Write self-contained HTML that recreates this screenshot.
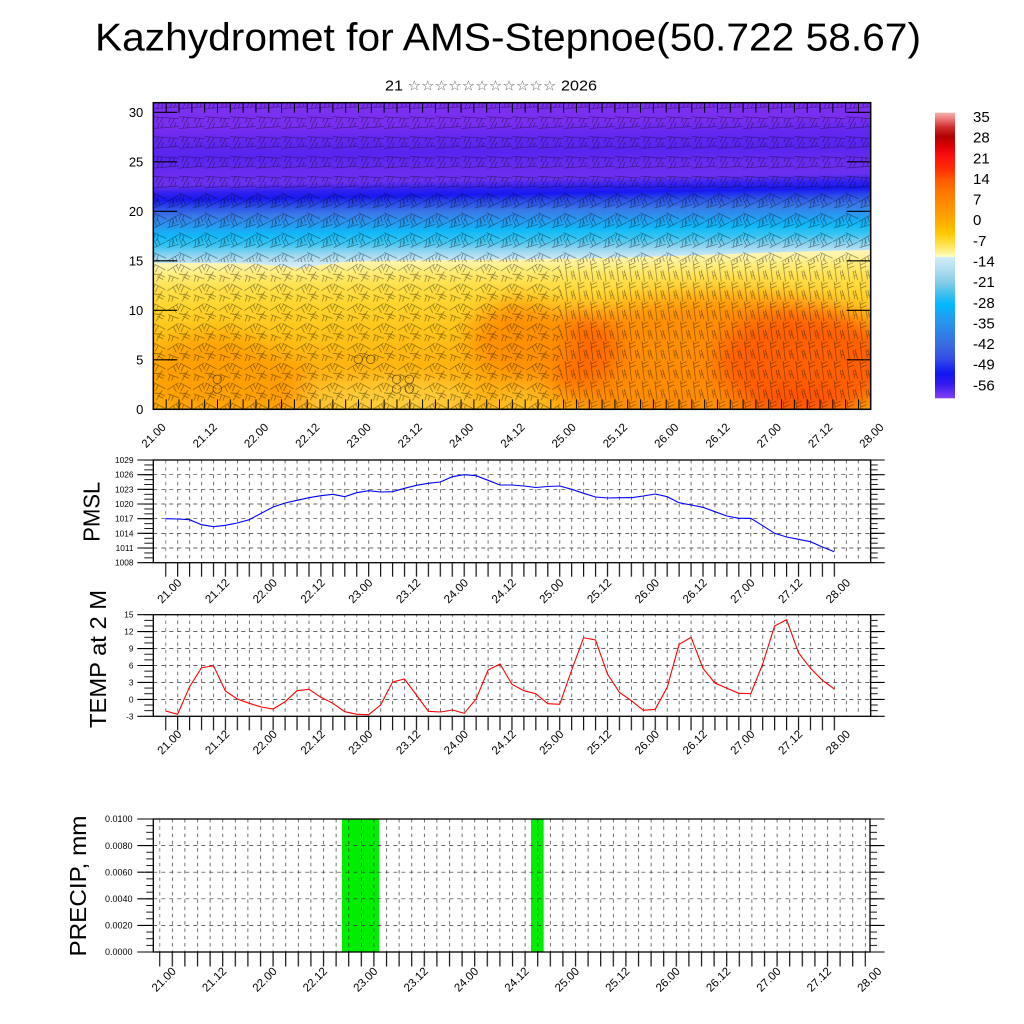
<!DOCTYPE html>
<html><head><meta charset="utf-8">
<style>
html,body{margin:0;padding:0;background:#fff;}
svg{display:block;}
text{font-family:"Liberation Sans","DejaVu Sans",sans-serif;fill:#000;}
</style></head>
<body>
<svg width="1024" height="1024" viewBox="0 0 1024 1024" xmlns="http://www.w3.org/2000/svg">
<defs>
 <linearGradient id="warm" gradientUnits="userSpaceOnUse" x1="0" y1="102.7" x2="0" y2="409.3" gradientTransform="rotate(-1 512 256)">
  <stop offset="0" stop-color="#fffad0"/>
  <stop offset=".48" stop-color="#fff8c8"/>
  <stop offset=".515" stop-color="#fff4a8"/>
  <stop offset=".545" stop-color="#ffec78"/>
  <stop offset=".59" stop-color="#ffe04a"/>
  <stop offset=".65" stop-color="#ffd42c"/>
  <stop offset=".74" stop-color="#ffc418"/>
  <stop offset=".84" stop-color="#ffb40c"/>
  <stop offset=".94" stop-color="#ffac04"/>
  <stop offset="1" stop-color="#ffb40c"/>
 </linearGradient>
 <linearGradient id="cold" gradientUnits="userSpaceOnUse" x1="0" y1="102.7" x2="0" y2="266" gradientTransform="rotate(-1 512 256)">
  <stop offset="0" stop-color="#7c30f0"/>
  <stop offset=".12" stop-color="#7a2ef0"/>
  <stop offset=".2" stop-color="#6428f0"/>
  <stop offset=".3" stop-color="#5824f0"/>
  <stop offset=".4" stop-color="#6a2cf0"/>
  <stop offset=".47" stop-color="#6a30f0"/>
  <stop offset=".52" stop-color="#3020f0"/>
  <stop offset=".56" stop-color="#1818f0"/>
  <stop offset=".6" stop-color="#2a48ea"/>
  <stop offset=".66" stop-color="#3a78e8"/>
  <stop offset=".72" stop-color="#2898f0"/>
  <stop offset=".78" stop-color="#10b8f8"/>
  <stop offset=".84" stop-color="#38c4f2"/>
  <stop offset=".9" stop-color="#90d4f0"/>
  <stop offset=".95" stop-color="#c4e6f4"/>
  <stop offset="1" stop-color="#e4f2f6"/>
 </linearGradient>
 <linearGradient id="cbar" x1="0" y1="0" x2="0" y2="1">
  <stop offset="0" stop-color="#f8b0b0"/>
  <stop offset=".026" stop-color="#e87070"/>
  <stop offset=".049" stop-color="#d03030"/>
  <stop offset=".084" stop-color="#b00000"/>
  <stop offset=".119" stop-color="#e00000"/>
  <stop offset=".154" stop-color="#ff1010"/>
  <stop offset=".2" stop-color="#ff3000"/>
  <stop offset=".236" stop-color="#ff5a00"/>
  <stop offset=".282" stop-color="#ff7a00"/>
  <stop offset=".329" stop-color="#ff9000"/>
  <stop offset=".376" stop-color="#ffa800"/>
  <stop offset=".422" stop-color="#ffc800"/>
  <stop offset=".457" stop-color="#ffe040"/>
  <stop offset=".487" stop-color="#fff090"/>
  <stop offset=".504" stop-color="#ffffc8"/>
  <stop offset=".506" stop-color="#d0ecf8"/>
  <stop offset=".551" stop-color="#b0dcf0"/>
  <stop offset=".597" stop-color="#80cce8"/>
  <stop offset=".644" stop-color="#30bcf0"/>
  <stop offset=".673" stop-color="#00b8ff"/>
  <stop offset=".714" stop-color="#20a0f0"/>
  <stop offset=".772" stop-color="#3080e8"/>
  <stop offset=".819" stop-color="#3a68e0"/>
  <stop offset=".866" stop-color="#3048e8"/>
  <stop offset=".912" stop-color="#1018f0"/>
  <stop offset=".947" stop-color="#3018f0"/>
  <stop offset="1" stop-color="#8040f0"/>
 </linearGradient>
 <clipPath id="clipTop"><rect x="153.3" y="102.7" width="717.4" height="306.6"/></clipPath>
 <filter id="blur" x="-50%" y="-50%" width="200%" height="200%"><feGaussianBlur stdDeviation="12"/></filter>

 <!-- barb textures -->
 <pattern id="bu" patternUnits="userSpaceOnUse" x="153.3" y="102.7" width="25.64" height="19.8">
  <path d="M0 6L25.64 4M0 14L25.64 16M4 5.7l2.5-6.5M8 5.4l2.5-6.5M17 4.7l2.5-6.5M21 4.4l2.5-6.5M5 14.4l-2.5 6.5M9 14.7l-2.5 6.5M17 15.3l-2.5 6.5M21 15.6l-2.5 6.5" stroke="#000" stroke-width=".65" stroke-opacity=".5" fill="none"/>
 </pattern>
 <pattern id="bm" patternUnits="userSpaceOnUse" x="153.3" y="190" width="25.64" height="19.8">
  <path d="M0 3L13 9M13 12L25.64 5M1 18L12 12.5M14 18L25.64 14.5M2 4l-2 6M5 5.4l-2 6M22 6.6l2 6M19 8.3l2 6M4 16.9l-3-6M7 15.3l-3-6M16 17.4l1-7M19 16.5l1-7" stroke="#000" stroke-width=".65" stroke-opacity=".5" fill="none"/>
 </pattern>
 <pattern id="bl" patternUnits="userSpaceOnUse" x="153.3" y="262" width="25.64" height="19.8">
  <path d="M1 2L12 8M14 9L25 2M3 19.5L9 9.5M15 13L25.64 17M0 12L6 13M2 2.6l-3 6M5 4.2l-3 6M23 3.3l3 6M20 5.2l3 6M4 14.5l6 3M5.5 12l6 3M17 13.8l-2 6M20 15l-2 6" stroke="#000" stroke-width=".65" stroke-opacity=".5" fill="none"/>
 </pattern>
 <pattern id="br" patternUnits="userSpaceOnUse" x="560" y="262" width="12.82" height="19.8">
  <path d="M5 0L7.5 19.8M5.3 3l6-2.5M5.7 6.5l6-2.5M0 8L3 18M11 9L13 18M0.5 10l-5 3M1.2 13l-5 3" stroke="#000" stroke-width=".65" stroke-opacity=".5" fill="none"/>
 </pattern>

 <!-- grid / tick patterns -->
 <pattern id="vg1" patternUnits="userSpaceOnUse" x="165.35" y="460" width="11.94" height="7.3">
  <rect x="0" y="0" width="0.7" height="3.5" fill="#333"/>
 </pattern>
 <pattern id="vg2" patternUnits="userSpaceOnUse" x="159.35" y="819" width="12.6" height="7.3">
  <rect x="0" y="0" width="0.7" height="3.5" fill="#333"/>
 </pattern>
 <pattern id="xt1" patternUnits="userSpaceOnUse" x="165.1" y="0" width="11.94" height="20">
  <rect x="0" y="0" width="1.2" height="20" fill="#111"/>
 </pattern>
 <pattern id="xt2" patternUnits="userSpaceOnUse" x="159.1" y="0" width="12.6" height="20">
  <rect x="0" y="0" width="1.2" height="20" fill="#111"/>
 </pattern>
 <pattern id="tt" patternUnits="userSpaceOnUse" x="165.7" y="0" width="12.82" height="20">
  <rect x="0" y="0" width="1" height="20" fill="#000"/>
 </pattern>
 <pattern id="ym1" patternUnits="userSpaceOnUse" x="0" y="459.6" width="20" height="4.89">
  <rect x="0" y="0" width="20" height="0.9" fill="#000"/>
 </pattern>
 <pattern id="ym2" patternUnits="userSpaceOnUse" x="0" y="614.25" width="20" height="5.644">
  <rect x="0" y="0" width="20" height="0.9" fill="#000"/>
 </pattern>
 <pattern id="ym3" patternUnits="userSpaceOnUse" x="0" y="818.55" width="20" height="6.65">
  <rect x="0" y="0" width="20" height="0.9" fill="#000"/>
 </pattern>
</defs>

<!-- Title -->
<text x="95" y="50.7" font-size="39" textLength="826" lengthAdjust="spacingAndGlyphs">Kazhydromet for AMS-Stepnoe(50.722 58.67)</text>
<text x="385" y="90.5" font-size="15" textLength="212" lengthAdjust="spacingAndGlyphs">21 <tspan font-family="DejaVu Sans" font-size="14" fill="#666">☆☆☆☆☆☆☆☆☆☆☆</tspan> 2026</text>

<!-- Top panel field -->
<g clip-path="url(#clipTop)">
 <rect x="153.3" y="102.7" width="717.4" height="306.6" fill="url(#warm)"/>
 <g filter="url(#blur)">
  <ellipse cx="720" cy="365" rx="180" ry="70" fill="#ff8a00" opacity=".9"/>
  <ellipse cx="805" cy="362" rx="90" ry="55" fill="#ff6000"/>
  <ellipse cx="580" cy="350" rx="40" ry="38" fill="#ff6a00"/>
  <ellipse cx="520" cy="342" rx="50" ry="40" fill="#ff9000"/>
  <ellipse cx="800" cy="405" rx="55" ry="15" fill="#ff5000"/>
  <ellipse cx="215" cy="375" rx="70" ry="40" fill="#ffa000"/>
  <ellipse cx="285" cy="390" rx="25" ry="30" fill="#ff9c00"/>
  <ellipse cx="390" cy="398" rx="90" ry="18" fill="#ffd040"/>
  <ellipse cx="520" cy="402" rx="30" ry="10" fill="#ffc830"/>
 </g>
 <path d="M153.3 102.7H870.7V250L820 251L760 253L700 255L640 257L580 258.5L520 259.5L460 260L400 260.5L350 261.5L320 265L300 268L280 266L250 263.5L200 263L153.3 263Z" fill="url(#cold)"/>
 <rect x="153.3" y="102.7" width="717.4" height="87.3" fill="url(#bu)"/>
 <rect x="153.3" y="190" width="717.4" height="72" fill="url(#bm)"/>
 <rect x="153.3" y="262" width="406.7" height="147.3" fill="url(#bl)"/>
 <rect x="560" y="262" width="310.7" height="147.3" fill="url(#br)"/>
 <g fill="none" stroke="#000" stroke-opacity=".6" stroke-width=".7">
  <circle cx="217.3" cy="379.3" r="4.3"/><circle cx="217.3" cy="389" r="4.3"/>
  <circle cx="358.3" cy="359.3" r="4.3"/><circle cx="370.7" cy="359.3" r="4.3"/>
  <circle cx="396.7" cy="379.3" r="4.3"/><circle cx="409.3" cy="379.3" r="4.3"/>
  <circle cx="396.7" cy="389" r="4.3"/><circle cx="409.3" cy="389" r="4.3"/>
 </g>
 <!-- inner ticks -->
 <rect x="165.2" y="102.7" width="694" height="10" fill="url(#tt)"/>
 <rect x="165.2" y="399.3" width="694" height="10" fill="url(#tt)"/>
 <path d="M153.3 112.3h24M153.3 161.8h24M153.3 211.3h24M153.3 260.8h24M153.3 310.3h24M153.3 359.8h24M870.7 112.3h-24M870.7 161.8h-24M870.7 211.3h-24M870.7 260.8h-24M870.7 310.3h-24M870.7 359.8h-24" stroke="#000" stroke-width="1.1" fill="none"/>
</g>
<rect x="153.3" y="102.7" width="717.4" height="306.6" fill="none" stroke="#000" stroke-width="1.5"/>
<g font-size="13" text-anchor="end">
 <text x="143.3" y="117">30</text>
 <text x="143.3" y="166.5">25</text>
 <text x="143.3" y="216">20</text>
 <text x="143.3" y="265.5">15</text>
 <text x="143.3" y="315">10</text>
 <text x="143.3" y="364.5">5</text>
 <text x="143.3" y="414">0</text>
</g>
<g font-size="11.5" text-anchor="end">
 <text transform="translate(166.5 428) rotate(-45)">21.00</text>
 <text transform="translate(217.8 428) rotate(-45)">21.12</text>
 <text transform="translate(269.1 428) rotate(-45)">22.00</text>
 <text transform="translate(320.3 428) rotate(-45)">22.12</text>
 <text transform="translate(371.6 428) rotate(-45)">23.00</text>
 <text transform="translate(422.9 428) rotate(-45)">23.12</text>
 <text transform="translate(474.2 428) rotate(-45)">24.00</text>
 <text transform="translate(525.5 428) rotate(-45)">24.12</text>
 <text transform="translate(576.7 428) rotate(-45)">25.00</text>
 <text transform="translate(628.0 428) rotate(-45)">25.12</text>
 <text transform="translate(679.3 428) rotate(-45)">26.00</text>
 <text transform="translate(730.6 428) rotate(-45)">26.12</text>
 <text transform="translate(781.9 428) rotate(-45)">27.00</text>
 <text transform="translate(833.1 428) rotate(-45)">27.12</text>
 <text transform="translate(884.4 428) rotate(-45)">28.00</text>
</g>

<!-- Colorbar -->
<rect x="935" y="112.7" width="20" height="285.6" fill="url(#cbar)"/>
<g font-size="15">
 <text x="973" y="122.1">35</text>
 <text x="973" y="142.7">28</text>
 <text x="973" y="163.4">21</text>
 <text x="973" y="184.0">14</text>
 <text x="973" y="204.6">7</text>
 <text x="973" y="225.2">0</text>
 <text x="973" y="245.9">-7</text>
 <text x="973" y="266.5">-14</text>
 <text x="973" y="287.1">-21</text>
 <text x="973" y="307.8">-28</text>
 <text x="973" y="328.4">-35</text>
 <text x="973" y="349.0">-42</text>
 <text x="973" y="369.6">-49</text>
 <text x="973" y="390.3">-56</text>
</g>

<!-- ===== PMSL panel ===== -->
<rect x="165.35" y="460" width="704.6" height="102.7" fill="url(#vg1)"/>
<path d="M153.3 474.7H870.7M153.3 489.3H870.7M153.3 504H870.7M153.3 518.7H870.7M153.3 533.35H870.7M153.3 548H870.7" stroke="#333" stroke-width=".7" stroke-dasharray="4 4" fill="none"/>
<polyline fill="none" stroke="#0000ff" stroke-width="1.1" points="165.7,518.7 177.6,519.0 189.6,519.7 201.5,524.7 213.5,526.7 225.4,525.3 237.3,523.0 249.3,519.7 261.2,513.3 273.2,507.0 285.1,503.0 297.0,500.3 309.0,497.7 320.9,495.7 332.9,494.3 344.8,496.7 356.7,492.7 368.7,490.7 380.6,492.0 392.6,491.7 404.5,488.3 416.4,485.3 428.4,483.3 440.3,482.0 452.3,476.7 464.2,474.7 476.1,475.7 488.1,480.3 500.0,485.0 512.0,485.0 523.9,486.0 535.8,487.5 547.8,486.5 559.7,486.0 571.7,489.3 583.6,493.3 595.5,497.0 607.5,498.0 619.4,497.7 631.4,497.7 643.3,496.0 655.2,494.0 667.2,496.7 679.1,502.7 691.1,505.0 703.0,507.3 714.9,511.7 726.9,516.0 738.8,518.3 750.8,518.3 762.7,525.7 774.6,533.3 786.6,537.0 798.5,539.3 810.5,541.7 822.4,547.0 834.3,551.7"/>
<rect x="165.1" y="562.7" width="670.4" height="14" fill="url(#xt1)"/>
<rect x="144.3" y="459.6" width="9" height="103.5" fill="url(#ym1)"/>
<rect x="870.7" y="459.6" width="7" height="103.5" fill="url(#ym1)"/>
<path d="M137.3 460H153.3M137.3 474.7H153.3M137.3 489.3H153.3M137.3 504H153.3M137.3 518.7H153.3M137.3 533.35H153.3M137.3 548H153.3M137.3 562.7H153.3M870.7 460H884.7M870.7 474.7H884.7M870.7 489.3H884.7M870.7 504H884.7M870.7 518.7H884.7M870.7 533.35H884.7M870.7 548H884.7M870.7 562.7H884.7" stroke="#000" stroke-width="1.1" fill="none"/>
<rect x="153.3" y="460" width="717.4" height="102.7" fill="none" stroke="#000" stroke-width="1.3"/>
<g font-size="8.3" text-anchor="end">
 <text x="133.5" y="463">1029</text>
 <text x="133.5" y="477.7">1026</text>
 <text x="133.5" y="492.3">1023</text>
 <text x="133.5" y="507">1020</text>
 <text x="133.5" y="521.7">1017</text>
 <text x="133.5" y="536.3">1014</text>
 <text x="133.5" y="551">1011</text>
 <text x="133.5" y="565.7">1008</text>
</g>
<g font-size="11.5" text-anchor="end">
 <text transform="translate(182.3 583.5) rotate(-45)">21.00</text>
 <text transform="translate(230.1 583.5) rotate(-45)">21.12</text>
 <text transform="translate(277.8 583.5) rotate(-45)">22.00</text>
 <text transform="translate(325.6 583.5) rotate(-45)">22.12</text>
 <text transform="translate(373.3 583.5) rotate(-45)">23.00</text>
 <text transform="translate(421.1 583.5) rotate(-45)">23.12</text>
 <text transform="translate(468.9 583.5) rotate(-45)">24.00</text>
 <text transform="translate(516.6 583.5) rotate(-45)">24.12</text>
 <text transform="translate(564.4 583.5) rotate(-45)">25.00</text>
 <text transform="translate(612.1 583.5) rotate(-45)">25.12</text>
 <text transform="translate(659.9 583.5) rotate(-45)">26.00</text>
 <text transform="translate(707.7 583.5) rotate(-45)">26.12</text>
 <text transform="translate(755.4 583.5) rotate(-45)">27.00</text>
 <text transform="translate(803.2 583.5) rotate(-45)">27.12</text>
 <text transform="translate(850.9 583.5) rotate(-45)">28.00</text>
</g>

<!-- ===== TEMP panel ===== -->
<rect x="165.35" y="614.7" width="704.6" height="101.6" fill="url(#vg1)"/>
<path d="M153.3 631.6H870.7M153.3 648.6H870.7M153.3 665.5H870.7M153.3 682.4H870.7M153.3 699.4H870.7" stroke="#333" stroke-width=".7" stroke-dasharray="4 4" fill="none"/>
<polyline fill="none" stroke="#ff0000" stroke-width="1.1" points="165.7,711.0 177.6,714.3 189.6,686.7 201.5,667.7 213.5,665.7 225.4,691.0 237.3,699.0 249.3,703.3 261.2,707.0 273.2,709.0 285.1,701.7 297.0,690.7 309.0,689.3 320.9,697.3 332.9,703.3 344.8,711.7 356.7,714.3 368.7,714.7 380.6,705.0 392.6,682.0 404.5,679.0 416.4,695.0 428.4,711.3 440.3,712.0 452.3,710.0 464.2,713.3 476.1,699.0 488.1,670.0 500.0,664.0 512.0,684.3 523.9,690.7 535.8,693.7 547.8,703.7 559.7,704.3 571.7,670.0 583.6,637.7 595.5,640.0 607.5,674.0 619.4,692.3 631.4,700.7 643.3,710.3 655.2,709.3 667.2,687.3 679.1,644.3 691.1,637.3 703.0,668.3 714.9,683.0 726.9,688.3 738.8,693.3 750.8,693.7 762.7,664.0 774.6,626.0 786.6,619.7 798.5,652.7 810.5,668.3 822.4,680.3 834.3,689.0"/>
<rect x="165.1" y="716.3" width="670.4" height="14" fill="url(#xt1)"/>
<rect x="144.3" y="614.25" width="9" height="102.5" fill="url(#ym2)"/>
<rect x="870.7" y="614.25" width="7" height="102.5" fill="url(#ym2)"/>
<path d="M137.3 614.7H153.3M137.3 631.6H153.3M137.3 648.6H153.3M137.3 665.5H153.3M137.3 682.4H153.3M137.3 699.4H153.3M137.3 716.3H153.3M870.7 614.7H884.7M870.7 631.6H884.7M870.7 648.6H884.7M870.7 665.5H884.7M870.7 682.4H884.7M870.7 699.4H884.7M870.7 716.3H884.7" stroke="#000" stroke-width="1.1" fill="none"/>
<rect x="153.3" y="614.7" width="717.4" height="101.6" fill="none" stroke="#000" stroke-width="1.3"/>
<g font-size="8.3" text-anchor="end">
 <text x="133.5" y="617.7">15</text>
 <text x="133.5" y="634.6">12</text>
 <text x="133.5" y="651.6">9</text>
 <text x="133.5" y="668.5">6</text>
 <text x="133.5" y="685.4">3</text>
 <text x="133.5" y="702.4">0</text>
 <text x="133.5" y="719.3">-3</text>
</g>
<g font-size="11.5" text-anchor="end">
 <text transform="translate(182.3 734.8) rotate(-45)">21.00</text>
 <text transform="translate(230.1 734.8) rotate(-45)">21.12</text>
 <text transform="translate(277.8 734.8) rotate(-45)">22.00</text>
 <text transform="translate(325.6 734.8) rotate(-45)">22.12</text>
 <text transform="translate(373.3 734.8) rotate(-45)">23.00</text>
 <text transform="translate(421.1 734.8) rotate(-45)">23.12</text>
 <text transform="translate(468.9 734.8) rotate(-45)">24.00</text>
 <text transform="translate(516.6 734.8) rotate(-45)">24.12</text>
 <text transform="translate(564.4 734.8) rotate(-45)">25.00</text>
 <text transform="translate(612.1 734.8) rotate(-45)">25.12</text>
 <text transform="translate(659.9 734.8) rotate(-45)">26.00</text>
 <text transform="translate(707.7 734.8) rotate(-45)">26.12</text>
 <text transform="translate(755.4 734.8) rotate(-45)">27.00</text>
 <text transform="translate(803.2 734.8) rotate(-45)">27.12</text>
 <text transform="translate(850.9 734.8) rotate(-45)">28.00</text>
</g>

<!-- ===== PRECIP panel ===== -->
<rect x="342" y="819" width="37.3" height="133" fill="#00ee00"/>
<rect x="531" y="819" width="12.7" height="133" fill="#00ee00"/>
<rect x="159.35" y="819" width="707" height="133" fill="url(#vg2)"/>
<path d="M153.3 845.6H870M153.3 872.2H870M153.3 898.8H870M153.3 925.4H870" stroke="#333" stroke-width=".7" stroke-dasharray="4 4" fill="none"/>
<rect x="159.1" y="952" width="707" height="14.5" fill="url(#xt2)"/>
<rect x="146.3" y="818.55" width="7" height="134" fill="url(#ym3)"/>
<rect x="870" y="818.55" width="7" height="134" fill="url(#ym3)"/>
<path d="M137.3 819H153.3M137.3 845.6H153.3M137.3 872.2H153.3M137.3 898.8H153.3M137.3 925.4H153.3M137.3 952H153.3M870 819H884.5M870 845.6H884.5M870 872.2H884.5M870 898.8H884.5M870 925.4H884.5M870 952H884.5" stroke="#000" stroke-width="1.1" fill="none"/>
<rect x="153.3" y="819" width="716.7" height="133" fill="none" stroke="#000" stroke-width="1.3"/>
<g font-size="9" text-anchor="end">
 <text x="132.5" y="822.2">0.0100</text>
 <text x="132.5" y="848.8">0.0080</text>
 <text x="132.5" y="875.4">0.0060</text>
 <text x="132.5" y="902">0.0040</text>
 <text x="132.5" y="928.6">0.0020</text>
 <text x="132.5" y="955.2">0.0000</text>
</g>
<g font-size="11.5" text-anchor="end">
 <text transform="translate(176.7 972) rotate(-45)">21.00</text>
 <text transform="translate(227.1 972) rotate(-45)">21.12</text>
 <text transform="translate(277.5 972) rotate(-45)">22.00</text>
 <text transform="translate(327.9 972) rotate(-45)">22.12</text>
 <text transform="translate(378.3 972) rotate(-45)">23.00</text>
 <text transform="translate(428.7 972) rotate(-45)">23.12</text>
 <text transform="translate(479.1 972) rotate(-45)">24.00</text>
 <text transform="translate(529.5 972) rotate(-45)">24.12</text>
 <text transform="translate(579.9 972) rotate(-45)">25.00</text>
 <text transform="translate(630.3 972) rotate(-45)">25.12</text>
 <text transform="translate(680.7 972) rotate(-45)">26.00</text>
 <text transform="translate(731.1 972) rotate(-45)">26.12</text>
 <text transform="translate(781.5 972) rotate(-45)">27.00</text>
 <text transform="translate(831.9 972) rotate(-45)">27.12</text>
 <text transform="translate(882.3 972) rotate(-45)">28.00</text>
</g>

<!-- Y axis titles -->
<text transform="translate(99.3,511.7) rotate(-90)" font-size="23.5" text-anchor="middle" textLength="60" lengthAdjust="spacingAndGlyphs">PMSL</text>
<text transform="translate(106,659) rotate(-90)" font-size="23.5" text-anchor="middle" textLength="138" lengthAdjust="spacingAndGlyphs">TEMP at 2 M</text>
<text transform="translate(86,886) rotate(-90)" font-size="23.5" text-anchor="middle" textLength="141" lengthAdjust="spacingAndGlyphs">PRECIP, mm</text>
</svg>
</body></html>
